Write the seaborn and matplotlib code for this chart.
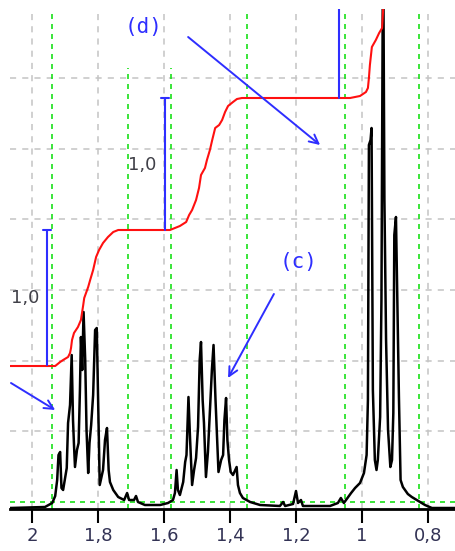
import numpy as np
import pandas as pd
import matplotlib
matplotlib.use("Agg")
import matplotlib.pyplot as plt
import seaborn as sns

# ---------------- data ----------------
# 1H NMR spectrum: chemical shift (ppm) and intensity (arb. units, baseline = 0)
spec_ppm = [2.067, 1.961, 1.939, 1.930, 1.924, 1.920, 1.915, 1.911, 1.906, 1.900,
            1.895, 1.891, 1.885, 1.880, 1.876, 1.873, 1.870, 1.864, 1.859, 1.855,
            1.852, 1.848, 1.844, 1.839, 1.835, 1.830, 1.826, 1.821, 1.815, 1.809,
            1.804, 1.800, 1.795, 1.785, 1.779, 1.773, 1.768, 1.764, 1.754, 1.739,
            1.721, 1.712, 1.706, 1.691, 1.685, 1.679, 1.658, 1.612, 1.588,
            1.573, 1.567, 1.562, 1.558, 1.552, 1.542, 1.536, 1.532, 1.526, 1.521,
            1.515, 1.509, 1.503, 1.497, 1.492, 1.488, 1.483, 1.479, 1.473, 1.467,
            1.461, 1.455, 1.450, 1.444, 1.439, 1.435, 1.427, 1.421, 1.417, 1.412,
            1.408, 1.403, 1.398, 1.391, 1.380, 1.376, 1.370, 1.361, 1.339, 1.309,
            1.249, 1.239, 1.233, 1.209, 1.200, 1.194, 1.185, 1.179, 1.097, 1.073,
            1.064, 1.055, 1.042, 1.033,
            1.021, 1.006, 0.994, 0.986, 0.982, 0.979, 0.974, 0.971, 0.967, 0.961,
            0.956, 0.952, 0.945, 0.941, 0.936, 0.932, 0.927, 0.921, 0.914, 0.909,
            0.905, 0.902, 0.897, 0.892, 0.888, 0.883, 0.876, 0.861, 0.849, 0.824,
            0.809, 0.788, 0.715]
spec_int = [-6, -5, -1, 6, 22, 47, 50, 14, 12, 24,
            34, 79, 97, 147, 82, 57, 35, 52, 59, 112,
            165, 132, 190, 142, 72, 29, 59, 77, 107, 172,
            174, 102, 17, 32, 62, 74, 32, 20, 12, 5,
            2, 9, 2, 2, 6, 0, -3, -3, -1,
            2, 9, 32, 12, 7, 20, 40, 47, 105, 62,
            17, 32, 44, 75, 142, 160, 102, 79, 25, 50,
            90, 132, 157, 102, 62, 30, 42, 47, 82, 104,
            62, 42, 30, 27, 35, 17, 9, 4, 0, -3,
            -4, 0, -4, -2, 11, -1, 2, -4, -4, -1,
            4, -1, 5, 9,
            14, 19, 29, 47, 102, 357, 362, 374, 112, 42,
            32, 42, 85, 202, 582, 302, 162, 72, 35, 42,
            89, 267, 285, 182, 105, 22, 15, 8, 5, 0,
            -3, -6, -6]

# integral curve
integ_ppm = [2.067, 1.930, 1.915, 1.906, 1.891, 1.885, 1.882, 1.879, 1.873, 1.861,
             1.852, 1.845, 1.842, 1.830, 1.824, 1.815, 1.806, 1.797, 1.785, 1.770,
             1.754, 1.739, 1.582, 1.567, 1.552, 1.533, 1.524, 1.515, 1.503, 1.494,
             1.488, 1.476, 1.470, 1.461, 1.454, 1.445, 1.433, 1.424, 1.415, 1.406,
             1.391, 1.379, 1.364, 1.036, 1.021, 1.006, 0.988, 0.982, 0.979, 0.976,
             0.970, 0.958, 0.948, 0.939, 0.936, 0.935]
integ_val = [136, 136, 140, 142, 145, 149, 154, 162, 169, 175,
             182, 197, 204, 215, 222, 232, 245, 252, 259, 265,
             270, 272, 272, 274, 276, 280, 287, 292, 302, 314,
             327, 334, 342, 352, 362, 374, 377, 382, 390, 396,
             400, 403, 404, 404, 405, 406, 410, 414, 424, 437,
             455, 462, 469, 474, 492, 522]

# integration bars (position, bottom, top, label)
bar_ppm = [1.9545, 1.597, 1.0697]
bar_low = [137, 272, 404]
bar_high = [272, 404, 540]
bar_labels = ["1,0", "1,0", ""]
bar_label_ppm = [2.021, 1.667]
bar_label_int = [204, 337]

# integration region limits (green dashed)
region_ppm = [1.939, 1.709, 1.579, 1.348, 1.052, 0.827]
region_top = [1.0, 0.882, 0.882, 1.0, 1.0, 1.0]

# annotations: label, label position, arrow start, arrow end
ann_labels = ["(d)", "(c)", ""]
ann_text_ppm = [1.661, 1.191, None]
ann_text_int = [475, 240, None]
arrow_from_ppm = [1.527, 1.267, 2.064]
arrow_from_int = [465, 208, 119]
arrow_to_ppm = [1.127, 1.406, 1.930]
arrow_to_int = [357, 124, 92]

tick_values = [2.0, 1.8, 1.6, 1.4, 1.2, 1.0, 0.8]
tick_labels = ["2", "1,8", "1,6", "1,4", "1,2", "1", "0,8"]
hgrid = [70.7, 141.4, 212.1, 282.8, 353.5, 424.2]

# ---------------- plotting ----------------
sns.set_style("white")
plt.rcParams["font.family"] = ["DejaVu Sans"]

fig = plt.figure(figsize=(4.56, 5.51), dpi=100)
ax = fig.add_axes([10 / 456, 42 / 551, 446 / 456, 500 / 551])

blue = "#2e2eff"
grid_gray = "#c4c4c4"
green = "#19e019"

# gray grid
for v in tick_values:
    ax.axvline(v, color=grid_gray, lw=1.1, ls=(0, (4, 4)), zorder=0)
for h in hgrid:
    ax.axhline(h, color=grid_gray, lw=1.1, ls=(0, (4, 4)), zorder=0)

# integration region markers
for p, t in zip(region_ppm, region_top):
    ax.axvline(p, ymin=0, ymax=t, color=green, lw=1.2, ls=(0, (3, 3)), zorder=1)
ax.axhline(0, color=green, lw=1.2, ls=(0, (3, 3)), zorder=1)

df_spec = pd.DataFrame({"ppm": spec_ppm, "intensity": spec_int})
sns.lineplot(data=df_spec, x="ppm", y="intensity", sort=False, estimator=None,
             color="black", lw=1.8, ax=ax, zorder=3)

df_int = pd.DataFrame({"ppm": integ_ppm, "integral": integ_val})
sns.lineplot(data=df_int, x="ppm", y="integral", sort=False, estimator=None,
             color="#ff1010", lw=1.5, ax=ax, zorder=4)

# integration bars
for p, lo, hi in zip(bar_ppm, bar_low, bar_high):
    ax.plot([p, p], [lo, hi], color=blue, lw=1.5, zorder=5)
    ax.plot([p - 0.012, p + 0.012], [hi, hi], color=blue, lw=1.5, zorder=5)
for lab, x, y in zip(bar_labels, bar_label_ppm, bar_label_int):
    ax.text(x, y, lab, ha="center", va="center", fontsize=13, color="#404048")

# arrows + labels
for lab, tx, ty, fx, fy, ex, ey in zip(ann_labels, ann_text_ppm, ann_text_int,
                                         arrow_from_ppm, arrow_from_int,
                                         arrow_to_ppm, arrow_to_int):
    ax.annotate("", xy=(ex, ey), xytext=(fx, fy),
                arrowprops=dict(arrowstyle="->", color=blue, lw=1.4,
                                mutation_scale=16, shrinkA=0, shrinkB=0),
                zorder=6)
    if lab:
        ax.text(tx, ty, lab, ha="center", va="center", fontsize=15,
                color=blue, family=["DejaVu Sans Mono"])

ax.set_xlim(2.067, 0.715)
ax.set_ylim(-7, 493)
ax.set_xticks(tick_values)
ax.set_xticklabels(tick_labels)
ax.set_yticks([])
ax.set_xlabel("")
ax.set_ylabel("")
for s in ["top", "left", "right"]:
    ax.spines[s].set_visible(False)
ax.spines["bottom"].set_linewidth(2)
ax.spines["bottom"].set_color("black")
ax.tick_params(axis="x", direction="out", length=10, width=1.5, color="black",
               labelsize=13, labelcolor="#333355", pad=3, bottom=True)
ax.patch.set_alpha(0)

fig.savefig("out.png", dpi=100)
